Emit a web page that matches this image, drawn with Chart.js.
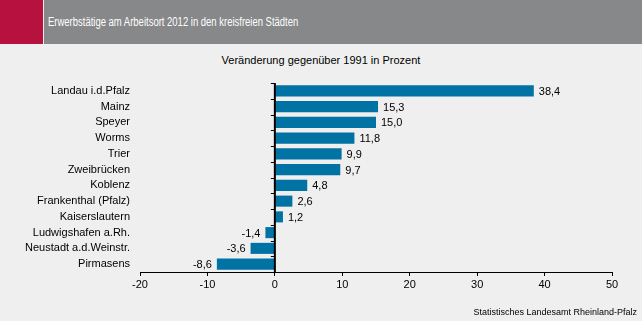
<!DOCTYPE html>
<html>
<head>
<meta charset="utf-8">
<script src="https://cdn.jsdelivr.net/npm/chart.js@4"></script>
<style>
  body { margin: 0; background: #eeefee; font-family: "Liberation Sans", Arial, sans-serif; }
  #wrap { position: relative; width: 642px; height: 321px; overflow: hidden; }
  #rot { position: absolute; left: 0; top: 0; width: 43px; height: 44px; background: #b7123f; }
  #kopf { position: absolute; left: 44px; top: 0; width: 598px; height: 44px; background: #878889; }
  #titel { position: absolute; left: 48px; top: 15px; color: #fff; font-size: 12px; white-space: nowrap;
    transform: scaleX(0.79); transform-origin: left top; }
  #untertitel { position: absolute; left: 0; width: 642px; top: 54px; text-align: center; font-size: 11px; color: #000; }
  #quelle { position: absolute; right: 5px; top: 307px; font-size: 9px; color: #000; }
  canvas { position: absolute; left: 0; top: 0; }
</style>
</head>
<body>
<div id="wrap">
  <div id="rot"></div>
  <div id="kopf"></div>
  <div id="titel">Erwerbstätige am Arbeitsort 2012 in den kreisfreien Städten</div>
  <div id="untertitel">Veränderung gegenüber 1991 in Prozent</div>
  <canvas id="grafik" width="642" height="321"></canvas>
  <div id="quelle">Statistisches Landesamt Rheinland-Pfalz</div>
</div>
<script>
// Daten
const staedte = ['Landau i.d.Pfalz', 'Mainz', 'Speyer', 'Worms', 'Trier', 'Zweibrücken', 'Koblenz',
  'Frankenthal (Pfalz)', 'Kaiserslautern', 'Ludwigshafen a.Rh.', 'Neustadt a.d.Weinstr.', 'Pirmasens'];
const veraenderung = [38.4, 15.3, 15.0, 11.8, 9.9, 9.7, 4.8, 2.6, 1.2, -1.4, -3.6, -8.6];
const xMin = -20;
const xMax = 50;
const xSchritt = 10;

const schrift = '"Liberation Sans", Arial, sans-serif';

// Nulllinie mit kleinen Strichen und Wertbeschriftungen
const extras = {
  id: 'extras',
  afterDatasetsDraw(chart) {
    const c = chart.ctx;
    const x = chart.scales.x;
    const x0 = x.getPixelForValue(0);
    const oben = chart.chartArea.top;
    const unten = chart.chartArea.bottom;
    c.save();
    c.strokeStyle = '#000';
    c.lineWidth = 2;
    c.beginPath();
    c.moveTo(x0, oben);
    c.lineTo(x0, unten);
    c.stroke();
    c.lineWidth = 1;
    const schritt = (unten - oben) / staedte.length;
    for (let i = 0; i <= staedte.length; i++) {
      const yy = Math.round(oben + i * schritt) + 0.5;
      c.beginPath();
      c.moveTo(x0 - 4, yy);
      c.lineTo(x0, yy);
      c.stroke();
    }
    c.font = '11px ' + schrift;
    c.fillStyle = '#000';
    c.textBaseline = 'middle';
    const meta = chart.getDatasetMeta(0);
    meta.data.forEach((bar, i) => {
      const v = veraenderung[i];
      const txt = v.toFixed(1).replace('.', ',');
      if (v >= 0) {
        c.textAlign = 'left';
        c.fillText(txt, bar.x + 5, bar.y + 1);
      } else {
        c.textAlign = 'right';
        c.fillText(txt, bar.x - 5, bar.y + 1);
      }
    });
    c.restore();
  }
};

const ctx = document.getElementById('grafik').getContext('2d');
const grafik = new Chart(ctx, {
  type: 'bar',
  data: {
    labels: staedte,
    datasets: [{
      data: veraenderung,
      backgroundColor: '#0072a3',
      borderWidth: 0,
      barPercentage: 0.9,
      categoryPercentage: 0.78
    }]
  },
  options: {
    indexAxis: 'y',
    responsive: false,
    animation: false,
    layout: { padding: { top: 83, right: 30, bottom: 29, left: 0 } },
    plugins: { legend: { display: false }, tooltip: { enabled: false } },
    scales: {
      x: {
        min: xMin,
        max: xMax,
        ticks: {
          stepSize: xSchritt,
          color: '#000',
          font: { family: schrift, size: 11 },
          padding: 2
        },
        grid: { drawOnChartArea: false, drawTicks: true, tickLength: 4, color: '#000' },
        border: { color: '#000', width: 1 },
        afterFit(s) { s.height = 20; }
      },
      y: {
        ticks: {
          autoSkip: false,
          color: '#000',
          font: { family: schrift, size: 11 },
          padding: 10
        },
        grid: { display: false, drawTicks: false },
        border: { display: false },
        afterFit(s) { s.width = 140; }
      }
    }
  },
  plugins: [extras]
});
</script>
</body>
</html>
